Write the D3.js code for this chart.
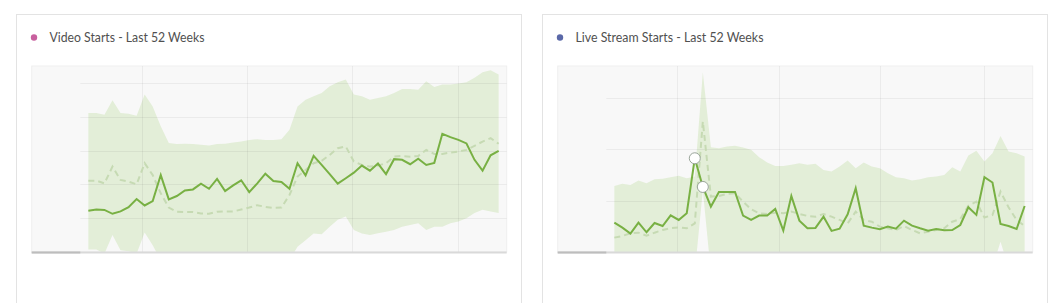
<!DOCTYPE html>
<html>
<head>
<meta charset="utf-8">
<script src="https://cdn.jsdelivr.net/npm/d3@7"></script>
<style>
  body { margin: 0; background: #fff; }
  svg { display: block; }
</style>
</head>
<body>
<svg width="1051" height="303"></svg>
<script>
// weekly values, index 0..51 = last 52 weeks
var videoActual = [24.4, 25.1, 24.9, 22.6, 24.0, 26.5, 31.3, 27.5, 30.1, 45.5,
  31.1, 33.1, 36.4, 37.0, 40.4, 37.4, 43.2, 36.0, 39.4, 42.4,
  35.4, 40.6, 46.3, 42.0, 41.4, 37.4, 52.5, 45.3, 56.8, 51.5,
  46.1, 40.4, 43.6, 46.9, 51.1, 48.1, 52.3, 46.1, 54.9, 54.5,
  51.9, 55.2, 51.5, 52.7, 69.9, 67.9, 66.3, 64.2, 54.5, 48.1,
  57.2, 59.8];
var videoExpected = [42.2, 42.2, 40.6, 50.5, 42.6, 41.6, 40.0, 52.5, 45.5, 34.7,
  26.3, 23.8, 23.6, 23.6, 22.8, 22.6, 23.8, 24.0, 24.0, 25.1,
  26.3, 27.7, 26.7, 26.1, 26.3, 33.7, 44.6, 48.5, 52.5, 53.9,
  57.4, 61.4, 62.4, 53.5, 51.5, 50.5, 51.1, 52.5, 56.4, 56.8,
  56.4, 56.8, 60.4, 58.0, 58.0, 58.8, 59.4, 60.4, 62.8, 65.3,
  67.3, 64.0];
var videoUpper = [82.2, 82.2, 81.2, 89.7, 82.2, 81.8, 80.6, 93.1, 86.1, 74.3,
  64.4, 63.8, 64.0, 63.8, 63.4, 63.0, 63.8, 64.0, 64.8, 65.3,
  66.3, 66.7, 66.3, 66.3, 66.7, 72.3, 86.1, 90.1, 92.1, 94.1,
  98.0, 100.4, 102.0, 93.1, 92.1, 90.1, 91.1, 92.1, 94.1, 96.4,
  96.4, 96.0, 101.0, 97.6, 99.0, 99.0, 99.6, 100.4, 103.0, 106.3,
  107.5, 105.0];
var videoLower = [1.5, 1.5, -1.0, 10.0, 1.0, 0.5, -1.0, 11.5, 4.0, -5.0,
  -11.8, -16.2, -16.8, -16.6, -17.8, -17.8, -16.2, -16.0, -16.8, -15.1,
  -13.7, -11.3, -12.9, -14.1, -14.1, -4.9, 3.1, 6.9, 11.0, 10.5,
  15.0, 19.0, 21.0, 13.0, 10.9, 10.0, 11.1, 12.0, 13.0, 15.0,
  16.0, 17.0, 13.0, 15.0, 15.0, 17.0, 18.0, 20.0, 23.0, 25.0,
  24.0, 23.0];

var liveActual = [28.6, 23.7, 17.9, 28.6, 19.2, 28.2, 25.3, 35.7, 31.2, 37.7,
  91.2, 63.3, 44.2, 58.4, 58.4, 58.4, 35.4, 31.2, 35.4, 35.4,
  41.9, 20.8, 54.5, 30.5, 23.1, 23.4, 34.4, 20.5, 22.7, 36.7,
  62.0, 25.6, 23.7, 22.1, 24.7, 22.7, 30.5, 25.6, 23.1, 20.8,
  22.4, 21.1, 21.4, 26.3, 43.5, 36.1, 72.8, 67.6, 27.3, 25.3,
  22.4, 44.8];
var liveExpected = [14.0, 15.6, 18.2, 18.8, 15.9, 18.8, 21.4, 23.1, 24.0, 23.1,
  27.9, 127.0, 53.9, 54.5, 56.5, 57.1, 49.0, 41.6, 37.7, 37.0,
  38.3, 37.7, 39.3, 37.0, 35.1, 34.4, 37.0, 34.4, 31.2, 27.9,
  39.3, 31.2, 29.5, 24.7, 23.1, 21.4, 25.3, 21.4, 18.2, 19.8,
  21.4, 23.1, 29.5, 32.1, 45.0, 49.0, 33.5, 36.0, 58.8, 43.5,
  31.2, 25.3];
var liveUpper = [64.3, 66.3, 65.3, 69.5, 66.9, 70.8, 71.2, 72.8, 74.1, 71.8,
  73.4, 174.8, 102.0, 101.0, 102.7, 103.3, 101.7, 99.4, 92.3, 87.1,
  83.8, 83.8, 84.8, 86.4, 84.8, 85.8, 79.9, 78.3, 83.2, 89.0,
  81.5, 87.1, 83.2, 81.5, 76.7, 72.8, 71.8, 69.5, 70.8, 72.8,
  73.4, 75.0, 82.5, 78.3, 94.0, 98.5, 88.0, 96.0, 113.0, 97.8,
  96.0, 92.9];
var liveLower = [-30, -28, -25, -25, -28, -25, -22, -20, -18, -20,
  -20, 60, -20, -40, -40, -40, -35, -30, -25, -22,
  -20, -20, -20, -20, -22, -22, -20, -22, -22, -25,
  -20, -25, -25, -30, -30, -30, -28, -30, -32, -30,
  -30, -28, -25, -20, -10, -8, -10, -15, 10, -15,
  -25, -30];
var liveMarkers = [10, 11];

// grid positions (week index) and value ticks
var videoGridWeeks = [6.7, 19.7, 32.8, 46.0];
var liveGridWeeks = [7.8, 20.5, 33.0, 46.0];
var videoYTicks = [20, 40, 60, 80, 100];
var liveYTicks = [50, 100, 150];

var svg = d3.select("svg");

function drawPanel(cfg) {
   var left = cfg.left;
   var g = svg.append("g").attr("transform", "translate(" + left + ",0)");

   // card
   g.append("rect")
      .attr("x", 0.5).attr("y", 14.5)
      .attr("width", 505).attr("height", 320)
      .attr("fill", "#fff")
      .attr("stroke", "#e3e3e3");

   // title
   g.append("circle")
      .attr("cx", 18).attr("cy", 37.5).attr("r", 3.2)
      .attr("fill", cfg.dot);
   g.append("text")
      .attr("x", 33.5).attr("y", 42)
      .attr("font-family", "Lato, 'Open Sans', sans-serif")
      .attr("font-size", "13.5px")
      .attr("fill", "#505050")
      .attr("textLength", cfg.titleWidth)
      .attr("lengthAdjust", "spacingAndGlyphs")
      .text(cfg.title);

   var x = d3.scaleLinear().domain([-7.04, 52.0]).range([15.7, 490.7]);
   var y = d3.scaleLinear().domain(cfg.yDomain).range([252, 66]);

   var clipId = "clip" + cfg.id;
   g.append("clipPath").attr("id", clipId)
      .append("rect")
      .attr("x", x.range()[0]).attr("y", 66)
      .attr("width", x.range()[1] - x.range()[0]).attr("height", 186);

   // plot background
   g.append("rect")
      .attr("x", x.range()[0]).attr("y", 66)
      .attr("width", x.range()[1] - x.range()[0]).attr("height", 186)
      .attr("fill", "#f8f8f8")
      .attr("stroke", "#efefef");

   var idx = d3.range(cfg.actual.length);

   // expected range band
   var area = d3.area()
      .x(function(i) { return x(i); })
      .y0(function(i) { return y(cfg.lower[i]); })
      .y1(function(i) { return y(cfg.upper[i]); });

   g.append("path")
      .datum(idx)
      .attr("clip-path", "url(#" + clipId + ")")
      .attr("d", area)
      .attr("fill", "#e3eed8");

   // grid
   var grid = g.append("g").attr("class", "grid");
   grid.selectAll("line.h")
      .data(cfg.yTicks)
      .enter().append("line")
      .attr("class", "h")
      .attr("x1", x(-1)).attr("x2", x.range()[1])
      .attr("y1", function(d) { return Math.round(y(d)) + 0.5; })
      .attr("y2", function(d) { return Math.round(y(d)) + 0.5; })
      .attr("stroke", "rgba(0,0,0,0.05)");
   grid.selectAll("line.v")
      .data(cfg.gridWeeks)
      .enter().append("line")
      .attr("class", "v")
      .attr("x1", function(d) { return Math.round(x(d)) + 0.5; })
      .attr("x2", function(d) { return Math.round(x(d)) + 0.5; })
      .attr("y1", 66).attr("y2", 252)
      .attr("stroke", "rgba(0,0,0,0.05)");

   // baseline
   g.append("line")
      .attr("x1", x.range()[0]).attr("x2", x.range()[1])
      .attr("y1", 252.5).attr("y2", 252.5)
      .attr("stroke", "#d9d9d9").attr("stroke-width", 2);
   g.append("line")
      .attr("x1", x.range()[0]).attr("x2", x(-1))
      .attr("y1", 252.5).attr("y2", 252.5)
      .attr("stroke", "#bdbdbd").attr("stroke-width", 2);

   var line = d3.line()
      .x(function(d, i) { return x(i); })
      .y(function(d) { return y(d); });

   g.append("path")
      .datum(cfg.expected)
      .attr("clip-path", "url(#" + clipId + ")")
      .attr("d", line)
      .attr("fill", "none")
      .attr("stroke", "#c6dab3")
      .attr("stroke-width", 2)
      .attr("stroke-dasharray", "6,4");

   g.append("path")
      .datum(cfg.actual)
      .attr("d", line)
      .attr("fill", "none")
      .attr("stroke", "#78b043")
      .attr("stroke-width", 2)
      .attr("stroke-linejoin", "miter");

   g.selectAll("circle.marker")
      .data(cfg.markers)
      .enter().append("circle")
      .attr("class", "marker")
      .attr("cx", function(i) { return x(i); })
      .attr("cy", function(i) { return y(cfg.actual[i]); })
      .attr("r", 5.5)
      .attr("fill", "#fff")
      .attr("stroke", "#9aa59a")
      .attr("stroke-width", 1);
}

drawPanel({
   id: "video", left: 16, title: "Video Starts - Last 52 Weeks", titleWidth: 155, dot: "#c8609e",
   actual: videoActual, expected: videoExpected, upper: videoUpper, lower: videoLower,
   yDomain: [0, 110], yTicks: videoYTicks, gridWeeks: videoGridWeeks, markers: []
});

drawPanel({
   id: "live", left: 542, title: "Live Stream Starts - Last 52 Weeks", titleWidth: 188, dot: "#5a68a8",
   actual: liveActual, expected: liveExpected, upper: liveUpper, lower: liveLower,
   yDomain: [0, 181], yTicks: liveYTicks, gridWeeks: liveGridWeeks, markers: liveMarkers
});
</script>
</body>
</html>
